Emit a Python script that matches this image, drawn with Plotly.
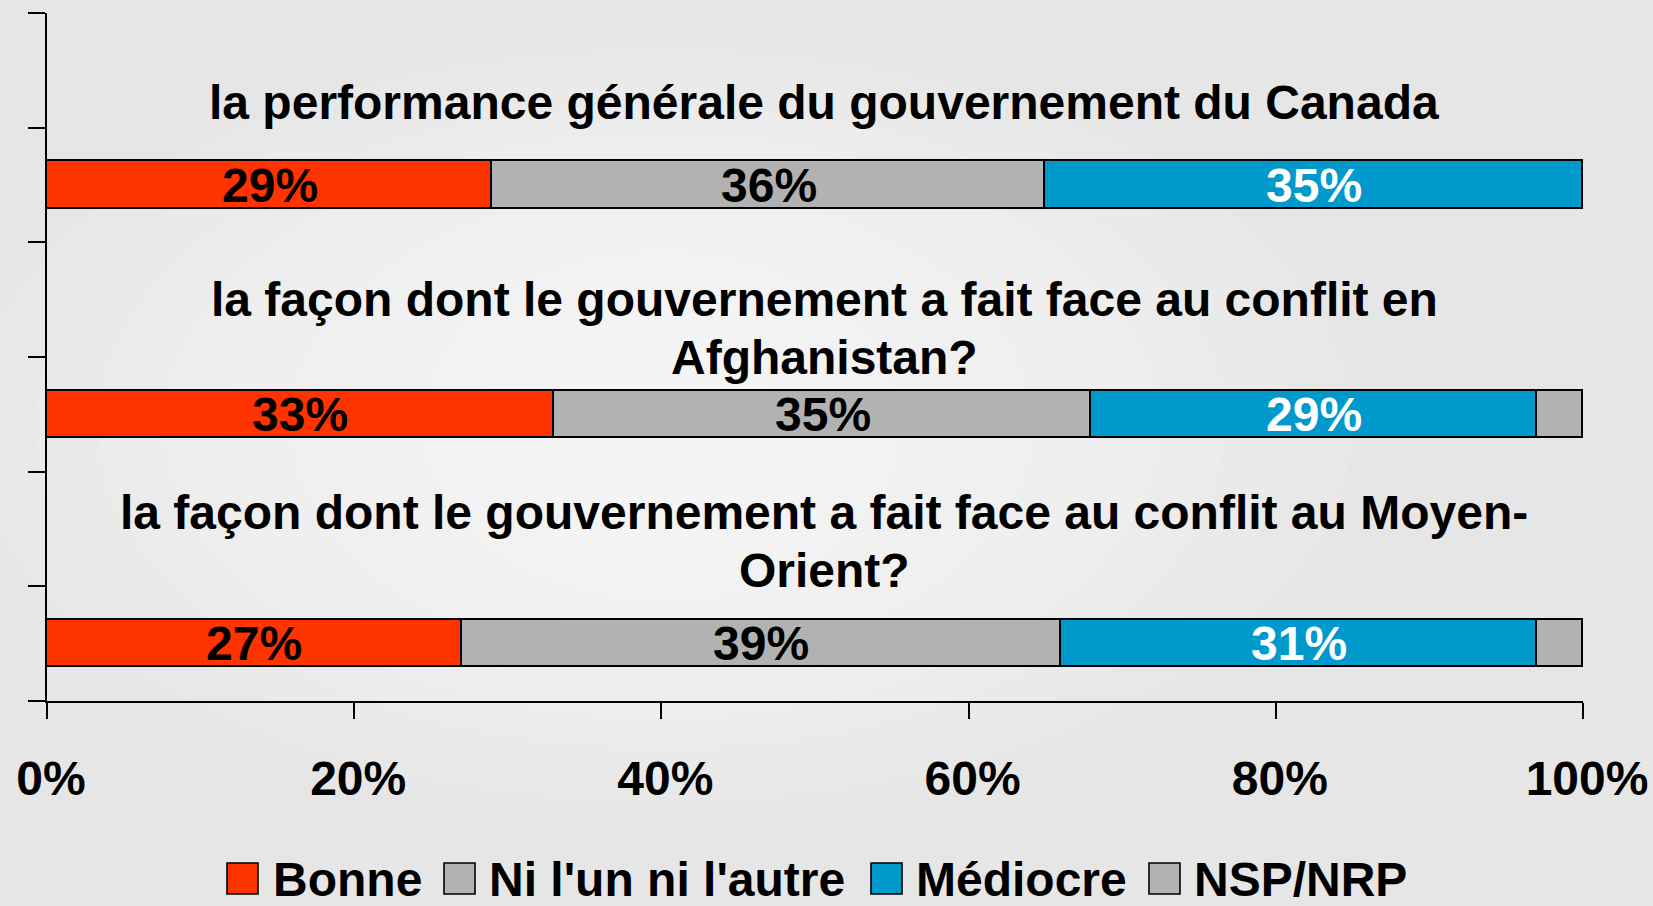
import plotly.graph_objects as go

# ---- data ----
questions = [
    ["la performance générale du gouvernement du Canada"],
    ["la façon dont le gouvernement a fait face au conflit en", "Afghanistan?"],
    ["la façon dont le gouvernement a fait face au conflit au Moyen-", "Orient?"],
]
series_names = ["Bonne", "Ni l'un ni l'autre", "Médiocre", "NSP/NRP"]
bonne = [29, 33, 27]
ni_lun = [36, 35, 39]
mediocre = [35, 29, 31]
nsp = [0, 3, 3]
x_tick_vals = [0, 20, 40, 60, 80, 100]
x_tick_labels = ["0%", "20%", "40%", "60%", "80%", "100%"]

# ---- style ----
FONT = "Liberation Sans, Arial, sans-serif"
FS = 48
colors = ["#FF3300", "#B2B2B2", "#0099CC", "#B2B2B2"]
label_colors = ["black", "black", "white", None]
W, H = 1653, 906
L, R, T, B = 47, 70, 13, 205
PW, PH = W - L - R, H - T - B

series = [bonne, ni_lun, mediocre, nsp]
n = len(questions)
bar_y = [2 * (n - 1 - i) + 0.5 for i in range(n)]       # slots from top
question_y = [2 * (n - 1 - i) + 1.5 for i in range(n)]

fig = go.Figure()

for name, vals, col in zip(series_names, series, colors):
    fig.add_trace(go.Bar(
        y=bar_y, x=vals, orientation="h", name=name,
        marker=dict(color=col, line=dict(color="black", width=1.6)),
        width=0.41, showlegend=False, hoverinfo="x+name",
    ))

# value labels in segment centres
cum = [0] * n
for vals, lc in zip(series, label_colors):
    if lc is not None:
        for c, v, yy in zip(cum, vals, bar_y):
            fig.add_annotation(
                x=c + v / 2, y=yy, xref="x", yref="y", text=f"<b>{v}%</b>",
                showarrow=False, xanchor="center", yanchor="middle", yshift=0,
                font=dict(family=FONT, size=FS, color=lc),
            )
    cum = [c + v for c, v in zip(cum, vals)]

# question captions (one annotation per line, 58px line pitch)
q_offsets = [-0.28, -0.25, -0.11]
LINE = 58
for lines, qy, off in zip(questions, question_y, q_offsets):
    k = len(lines)
    for j, line in enumerate(lines):
        fig.add_annotation(
            x=50.6, y=qy + off, xref="x", yref="y", text=f"<b>{line}</b>",
            yshift=-(j - (k - 1) / 2) * LINE,
            showarrow=False, xanchor="center", yanchor="middle",
            font=dict(family=FONT, size=FS, color="black"),
        )

# custom legend (large square keys)
def px_x(px):
    return (px - L) / PW

def px_y(py):
    return (H - B - py) / PH

leg_sq_x = [227, 444, 871, 1149]
leg_txt_x = [271, 487, 914, 1192]
for name, col, sx, tx in zip(series_names, colors, leg_sq_x, leg_txt_x):
    fig.add_shape(type="rect", xref="paper", yref="paper",
                  x0=px_x(sx), x1=px_x(sx + 31), y0=px_y(894), y1=px_y(863),
                  fillcolor=col, line=dict(color="black", width=1.6))
    fig.add_annotation(x=px_x(tx), y=px_y(879), xref="paper", yref="paper",
                       text=f"<b>{name}</b>", showarrow=False,
                       xanchor="left", yanchor="middle",
                       font=dict(family=FONT, size=FS, color="black"))

# soft background highlight (layered translucent ellipses)
for k in range(10):
    d = 0.042 * k
    fig.add_shape(type="circle", xref="paper", yref="paper", layer="below",
                  x0=-0.05 + d, x1=0.85 - d, y0=-0.15 + d, y1=0.95 - d,
                  fillcolor="white", opacity=0.11, line=dict(width=0))

fig.update_layout(
    width=W, height=H,
    margin=dict(l=L, r=R, t=T, b=B, autoexpand=False),
    paper_bgcolor="#e6e6e6", plot_bgcolor="rgba(0,0,0,0)",
    barmode="stack", bargap=0,
    font=dict(family=FONT, color="black"),
)
fig.update_xaxes(
    range=[0, 100], tickvals=x_tick_vals, ticktext=x_tick_labels,
    ticks="outside", ticklen=16, tickwidth=2, tickcolor="black",
    showline=True, linecolor="black", linewidth=2, showgrid=False,
    zeroline=False, ticklabelstandoff=18, ticklabelshift=4, automargin=False,
    tickfont=dict(family=FONT, size=FS, color="black", weight="bold"),
)
fig.update_yaxes(
    range=[0, 2 * n], tickvals=list(range(2 * n + 1)),
    ticks="outside", ticklen=17, tickwidth=2, tickcolor="black",
    showline=True, linecolor="black", linewidth=2, showgrid=False,
    zeroline=False, showticklabels=False, automargin=False,
)

fig.write_html(
    "out.html",
    config={"displayModeBar": False},
    post_script="document.body.style.margin='0';document.body.style.overflow='hidden';",
)
